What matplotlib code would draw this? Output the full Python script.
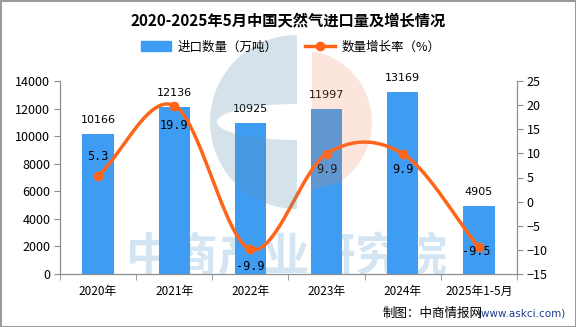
import numpy as np
import matplotlib.pyplot as plt
from matplotlib.patches import Rectangle, PathPatch, Polygon
from matplotlib.path import Path
from matplotlib.lines import Line2D

plt.rcParams['font.family'] = ['Noto Sans CJK SC', 'DejaVu Sans']

years = ["2020年", "2021年", "2022年", "2023年", "2024年", "2025年1-5月"]
volume = [10166, 12136, 10925, 11997, 13169, 4905]
growth = [5.3, 19.9, -9.9, 9.9, 9.9, -9.5]

bar_color = "#3e9df2"
line_color = "#ff6418"
axis_color = "#8c8c8c"

fig = plt.figure(figsize=(5.76, 3.27), dpi=100)
ax = fig.add_axes([60 / 576, 1 - 274 / 327, 457 / 576, 193 / 327])
ax2 = ax.twinx()

x = np.arange(len(years))

# faint company name behind the bars
ax.text(2.48, 1150, "中商产业研究院", ha="center", va="center", fontsize=33,
        fontweight="bold", color="#d3e5f2", zorder=0)

ax.bar(x, volume, width=0.41, color=bar_color, zorder=2)
for xi, v in zip(x, volume):
    ax.text(xi, v + 650, str(v), ha="center", va="bottom", fontsize=8, family="DejaVu Sans")

ax.set_xlim(-0.5, len(years) - 0.5)
ax.set_ylim(0, 14000)
ax.set_yticks(range(0, 14001, 2000))
ax.set_xticks(x)
ax.set_xticklabels(years, fontsize=8.5)
ax.set_xticks(np.arange(-0.5, len(years), 1), minor=True)
ax.tick_params(axis="x", which="major", length=0, pad=8)
ax.tick_params(axis="x", which="minor", length=4, color=axis_color)
ax.tick_params(axis="y", length=4, color=axis_color, labelsize=9, pad=3)

ax2.set_ylim(-15, 25)
ax2.set_yticks(range(-15, 26, 5))
ax2.set_yticklabels([str(t).replace("-", "\u2212") for t in range(-15, 26, 5)])
ax2.tick_params(axis="y", length=4, color=axis_color, labelsize=9, pad=3)

for a in (ax, ax2):
    a.spines["top"].set_visible(False)
    for s in ("left", "right", "bottom"):
        a.spines[s].set_color(axis_color)

# smooth growth curve (Catmull-Rom through the yearly points)
pts = np.column_stack([x, growth]).astype(float)
ext = np.vstack([2 * pts[0] - pts[1], pts, 2 * pts[-1] - pts[-2]])
curve = []
t = np.linspace(0, 1, 40)[:, None]
for i in range(1, len(ext) - 2):
    p0, p1, p2, p3 = ext[i - 1], ext[i], ext[i + 1], ext[i + 2]
    seg = 0.5 * ((2 * p1) + (-p0 + p2) * t + (2 * p0 - 5 * p1 + 4 * p2 - p3) * t ** 2
                 + (-p0 + 3 * p1 - 3 * p2 + p3) * t ** 3)
    curve.append(seg)
curve = np.vstack(curve)
ax2.plot(curve[:, 0], curve[:, 1], color=line_color, lw=2.5, zorder=3)
ax2.plot(x, growth, "o", color=line_color, ms=6, zorder=4)

offsets = [(0, 4.0), (0, -4.1), (0, -3.5), (0, -3.3), (0, -3.3), (-0.03, -0.8)]
for xi, g, (dx, dy) in zip(x, growth, offsets):
    ax2.text(xi + dx, g + dy, f"{g:.1f}", ha="center", va="center", fontsize=8.5,
             family="DejaVu Sans Mono", zorder=5)

# logo overlay in pixel coordinates
ov = fig.add_axes([0, 0, 1, 1], zorder=5)
ov.set_xlim(0, 576)
ov.set_ylim(327, 0)
ov.axis("off")
ov.patch.set_alpha(0)

cx, cy, r = 297, 122, 87
ang = np.linspace(np.pi / 2, 3 * np.pi / 2, 80)
outer = np.column_stack([cx + r * np.cos(ang), cy - r * np.sin(ang)])
ang_in = np.linspace(3 * np.pi / 2, np.pi / 2, 80)
inner = np.column_stack([cx - 80 * np.abs(np.cos(ang_in)), cy - 18 * np.sin(ang_in)])
c_verts = np.vstack([outer, outer[:1], inner, inner[:1]])
c_codes = ([Path.MOVETO] + [Path.LINETO] * (len(outer) - 1) + [Path.CLOSEPOLY]
           + [Path.MOVETO] + [Path.LINETO] * (len(inner) - 1) + [Path.CLOSEPOLY])
ov.add_patch(PathPatch(Path(c_verts, c_codes), color="#5f8fb0", alpha=0.26, lw=0))

ang_o = np.linspace(np.radians(78), np.radians(-58), 60)
o_pts = np.column_stack([300 + 72 * np.cos(ang_o), 122 - 72 * np.sin(ang_o)])
o_pts = np.vstack([[312, 52], o_pts, [312, 190]])
ov.add_patch(Polygon(o_pts, closed=True, color="#f08050", alpha=0.2, lw=0))

# frame
ov.add_patch(Rectangle((0.5, 0.5), 575, 326, fill=False, ec="#9a9a9a", lw=1.5))

fig.text(0.5, 1 - 20 / 327, "2020-2025年5月中国天然气进口量及增长情况", ha="center", va="center",
         fontsize=11, fontweight="bold")

handles = [Rectangle((0, 0), 1, 1, color=bar_color),
           Line2D([], [], color=line_color, lw=2.5, marker="o", ms=6)]
fig.legend(handles, ["进口数量（万吨）", "数量增长率（%）"], loc="center",
           bbox_to_anchor=(0.505, 1 - 47 / 327), ncol=2, frameon=False, fontsize=9,
           handlelength=2.4, handleheight=0.8, columnspacing=2.2, handletextpad=0.5)

fig.text(1 - 11 / 576, 1 - 313 / 327, "(www.askci.com)", ha="right", va="center",
         fontsize=7.5, color="#1a3d8f", family="DejaVu Sans")
fig.text(1 - 93 / 576, 1 - 313 / 327, "制图：中商情报网", ha="right", va="center", fontsize=9)

fig.savefig("out.png", dpi=100)
